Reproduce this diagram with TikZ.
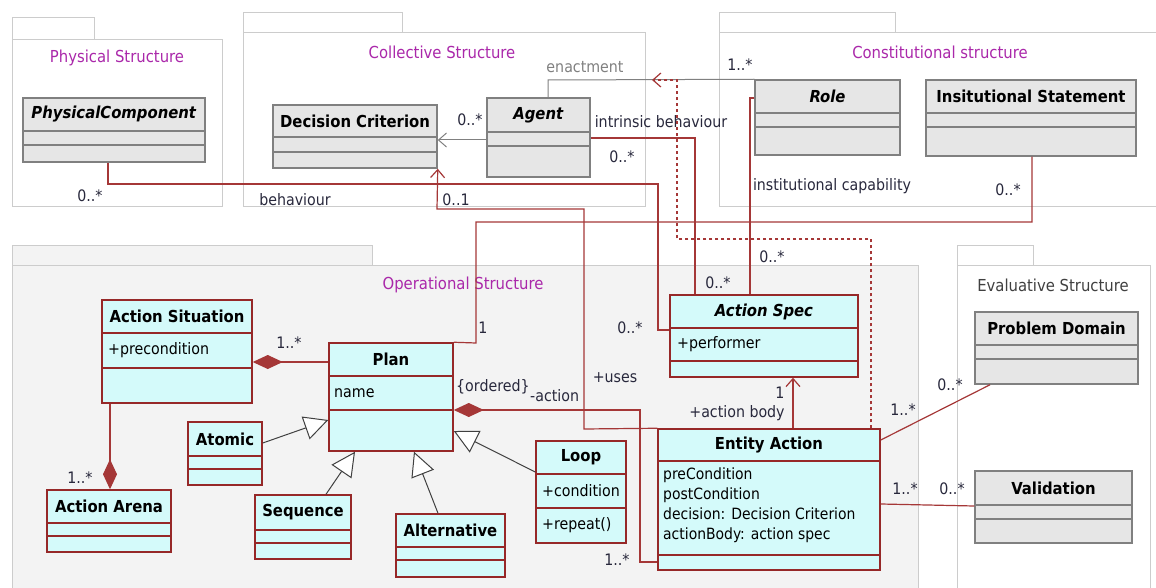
\documentclass[tikz,border=0pt]{standalone}
\usepackage{fontspec}
\setmainfont{DejaVu Sans Condensed}
\usepackage{tikz}
\usetikzlibrary{arrows.meta, positioning, fit}
\definecolor{pkgline}{RGB}{204,204,204}
\definecolor{pkgtitle}{RGB}{170,40,170}
\definecolor{opfill}{RGB}{243,243,243}
\definecolor{grayfill}{RGB}{230,230,230}
\definecolor{grayline}{RGB}{128,128,128}
\definecolor{cyanfill}{RGB}{212,250,250}
\definecolor{redline}{RGB}{150,40,40}
\definecolor{assocred}{RGB}{165,55,55}
\definecolor{labeltext}{RGB}{40,40,60}
\tikzset{
    pkg/.style={draw=pkgline, line width=1pt},
    pkgname/.style={font=\fontsize{16.5}{18}\selectfont, text=pkgtitle},
    grayclass/.style={draw=grayline, fill=grayfill, line width=1.5pt, inner sep=0pt},
    grayclassrule/.style={draw=grayline, line width=1.5pt},
    cyanclass/.style={draw=redline, fill=cyanfill, line width=1.5pt, inner sep=0pt},
    cyanclassrule/.style={draw=redline, line width=1.5pt},
    clsname/.style={font=\fontsize{16.5}{18}\selectfont\bfseries},
    attr/.style={font=\fontsize{15.8}{18}\selectfont, anchor=west, align=left, inner sep=0pt},
    mult/.style={font=\fontsize{15.8}{18}\selectfont, text=labeltext, inner sep=1pt},
    assoc/.style={draw=assocred, line width=1.2pt},
    compose/.style={assoc, {Diamond[length=30pt, width=14pt, fill=assocred]}-},
    inherit/.style={draw=darkgray, line width=1pt, -{Triangle[open, fill=white, length=24pt, width=24pt]}},
    navig/.style={-{Straight Barb[length=8pt, width=14pt]}}
}
% class box: name, style, x1, y1, x2, y2, first rule, second rule, title
\newcommand{\umlclass}[9]{%
    \node[#2, fit={(#3,#4) (#5,#6)}] (#1) {};
    \draw[#2rule] (#3,#7) -- (#5,#7) (#3,#8) -- (#5,#8);
    \node[clsname] (#1-name) at ({(#3+#5)/2},{(#4+#7)/2}) {#9};
}
\begin{document}
\begin{tikzpicture}[x=1pt, y=-1pt]
    \useasboundingbox (0,0) rectangle (1156,588);

    % Packages
    \draw[pkg] (12,18) rectangle (94,40);
    \draw[pkg] (12,40) rectangle (222,207);
    \node[pkgname] (physical) at (117,58) {Physical Structure};
    \draw[pkg] (243,13) rectangle (402,33);
    \draw[pkg] (243,33) rectangle (645,207);
    \node[pkgname] (collective) at (442,52) {Collective Structure};
    \draw[pkg] (719,13) rectangle (895,33);
    \draw[pkg] (719,33) rectangle (1160,207);
    \node[pkgname] (constitutional) at (940,52) {Constitutional structure};
    \draw[pkg, fill=opfill] (12,245) rectangle (372,265);
    \draw[pkg, fill=opfill] (12,265) rectangle (918,594);
    \node[pkgname] (operational) at (463,285) {Operational Structure};
    \draw[pkg] (957,245) rectangle (1033,265);
    \draw[pkg] (957,265) rectangle (1150,594);
    \node[pkgname, text=darkgray] (evaluative) at (1053,285) {Evaluative Structure};

    % Classes
    \umlclass{physcomp}{grayclass}{23}{98}{205}{162}{131}{145}{\textit{PhysicalComponent}}
    \umlclass{deccrit}{grayclass}{273}{105}{437}{168}{137}{152}{Decision Criterion}
    \umlclass{agent}{grayclass}{487}{98}{590}{177}{132}{146}{\textit{Agent}}
    \umlclass{role}{grayclass}{755}{80}{900}{155}{113}{127}{\textit{Role}}
    \umlclass{inststmt}{grayclass}{926}{80}{1136}{156}{113}{127}{Insitutional Statement}
    \umlclass{probdom}{grayclass}{975}{312}{1138}{384}{345}{359}{Problem Domain}
    \umlclass{validation}{grayclass}{975}{471}{1132}{543}{505}{519}{Validation}
    \umlclass{actsit}{cyanclass}{102}{300}{252}{403}{333}{368}{Action Situation}
    \umlclass{actarena}{cyanclass}{47}{490}{171}{552}{523}{536}{Action Arena}
    \umlclass{plan}{cyanclass}{329}{343}{453}{451}{376}{410}{Plan}
    \umlclass{atomic}{cyanclass}{188}{422}{262}{485}{456}{469}{Atomic}
    \umlclass{sequence}{cyanclass}{255}{495}{351}{559}{530}{543}{Sequence}
    \umlclass{alternative}{cyanclass}{396}{514}{505}{577}{547}{560}{Alternative}
    \umlclass{loop}{cyanclass}{536}{441}{626}{543}{474}{508}{Loop}
    \umlclass{aspec}{cyanclass}{670}{295}{858}{377}{328}{361}{\textit{Action Spec}}
    \umlclass{entact}{cyanclass}{658}{429}{880}{570}{461}{555}{Entity Action}

    % Attributes
    \node[attr] (actsit-a) at (108,350) {+precondition};
    \node[attr] (plan-a) at (334,393) {name};
    \node[attr] (loop-a) at (542,491) {+condition};
    \node[attr] (loop-b) at (542,525) {+repeat()};
    \node[attr] (aspec-a) at (677,344) {+performer};
    \node[attr, font=\fontsize{15.5}{19.7}\selectfont, anchor=north west] (entact-a) at (663,468)
        {preCondition\\postCondition\\decision: Decision Criterion\\actionBody: action spec};

    % Physical component - action spec
    \draw[assoc] (physcomp.south -| 108,0) -- (108,184) -- (658,184) -- (658,330) -- (aspec.west |- 0,330);
    \node[mult] (m1) at (90,196) {0..*};
    \node[mult] (r1) at (295,200) {behaviour};
    \node[mult] (m2) at (630,328) {0..*};

    % Agent - action spec
    \draw[assoc] (agent.east |- 0,138) -- (695,138) -- (aspec.north -| 695,0);
    \node[mult] (r2) at (661,122) {intrinsic behaviour};
    \node[mult] (m3) at (622,157) {0..*};
    \node[mult] (m4) at (718,283) {0..*};

    % Role - action spec
    \draw[assoc] (role.west |- 0,98) -- (750,98) -- (aspec.north -| 750,0);
    \node[mult] (r3) at (832,186) {institutional capability};
    \node[mult] (m5) at (772,257) {0..*};

    % Institutional statement - plan
    \draw[assoc] (inststmt.south -| 1032,0) -- (1032,222) -- (476,222) -- (476,343) -- (plan.north east);
    \node[mult] (m6) at (1008,190) {0..*};
    \node[mult] (m7) at (483,328) {1};

    % Entity action uses decision criterion
    \draw[assoc, navig] (entact.north west) -- (584,429) -- (584,209) -- (437,209) -- (deccrit.south east);
    \node[mult] (m8) at (456,200) {0..1};
    \node[mult] (r4) at (615,378) {+uses};

    % Plan - entity action
    \draw[compose] (plan.east |- 0,410) -- (640,410) -- (640,562) -- (entact.west |- 0,562);
    \node[mult, anchor=west, inner sep=0pt] (r5) at (456,387) {\{ordered\}};
    \node[mult, anchor=west, inner sep=0pt] (r6) at (530,396) {-action};
    \node[mult] (m9) at (617,560) {1..*};

    % Entity action - action spec
    \draw[assoc, navig] (entact.north -| 793,0) -- (aspec.south -| 793,0);
    \node[mult] (m10) at (780,393) {1};
    \node[mult] (r7) at (737,413) {+action body};

    % Enactment
    \draw[draw=gray, line width=1pt] (agent.north -| 548,0) -- (548,80) -- (role.north west);
    \node[mult, text=gray] (r8) at (585,67) {enactment};
    \node[mult] (m11) at (740,65) {1..*};
    \draw[assoc, dashed, navig] (entact.north east -| 871,0) -- (871,239) -- (677,239) -- (677,80) -- (652,80);

    % Agent - decision criterion
    \draw[draw=gray, line width=1pt, navig] (agent.west |- 0,140) -- (deccrit.east |- 0,140);
    \node[mult] (m12) at (470,120) {0..*};

    % Action situation - plan, action arena
    \draw[compose] (actsit.east |- 0,362) -- (plan.west |- 0,362);
    \node[mult] (m13) at (289,343) {1..*};
    \draw[compose] (actarena.north -| 110,0) -- (actsit.south -| 110,0);
    \node[mult] (m14) at (80,478) {1..*};

    % Generalisations
    \draw[inherit] (atomic.east |- 0,443) -- (plan.west |- 0,420);
    \draw[inherit] (sequence.north -| 326,0) -- (plan.south -| 355,0);
    \draw[inherit] (alternative.north -| 438,0) -- (plan.south -| 414,0);
    \draw[inherit] (loop.west |- 0,472) -- (plan.east |- 0,431);

    % Evaluative links
    \draw[assoc] (entact.east |- 0,440) -- (probdom.south west -| 990,0);
    \node[mult] (m15) at (903,410) {1..*};
    \node[mult] (m16) at (950,385) {0..*};
    \draw[assoc] (entact.east |- 0,504) -- (validation.west |- 0,506);
    \node[mult] (m17) at (905,489) {1..*};
    \node[mult] (m18) at (952,489) {0..*};
\end{tikzpicture}
\end{document}
